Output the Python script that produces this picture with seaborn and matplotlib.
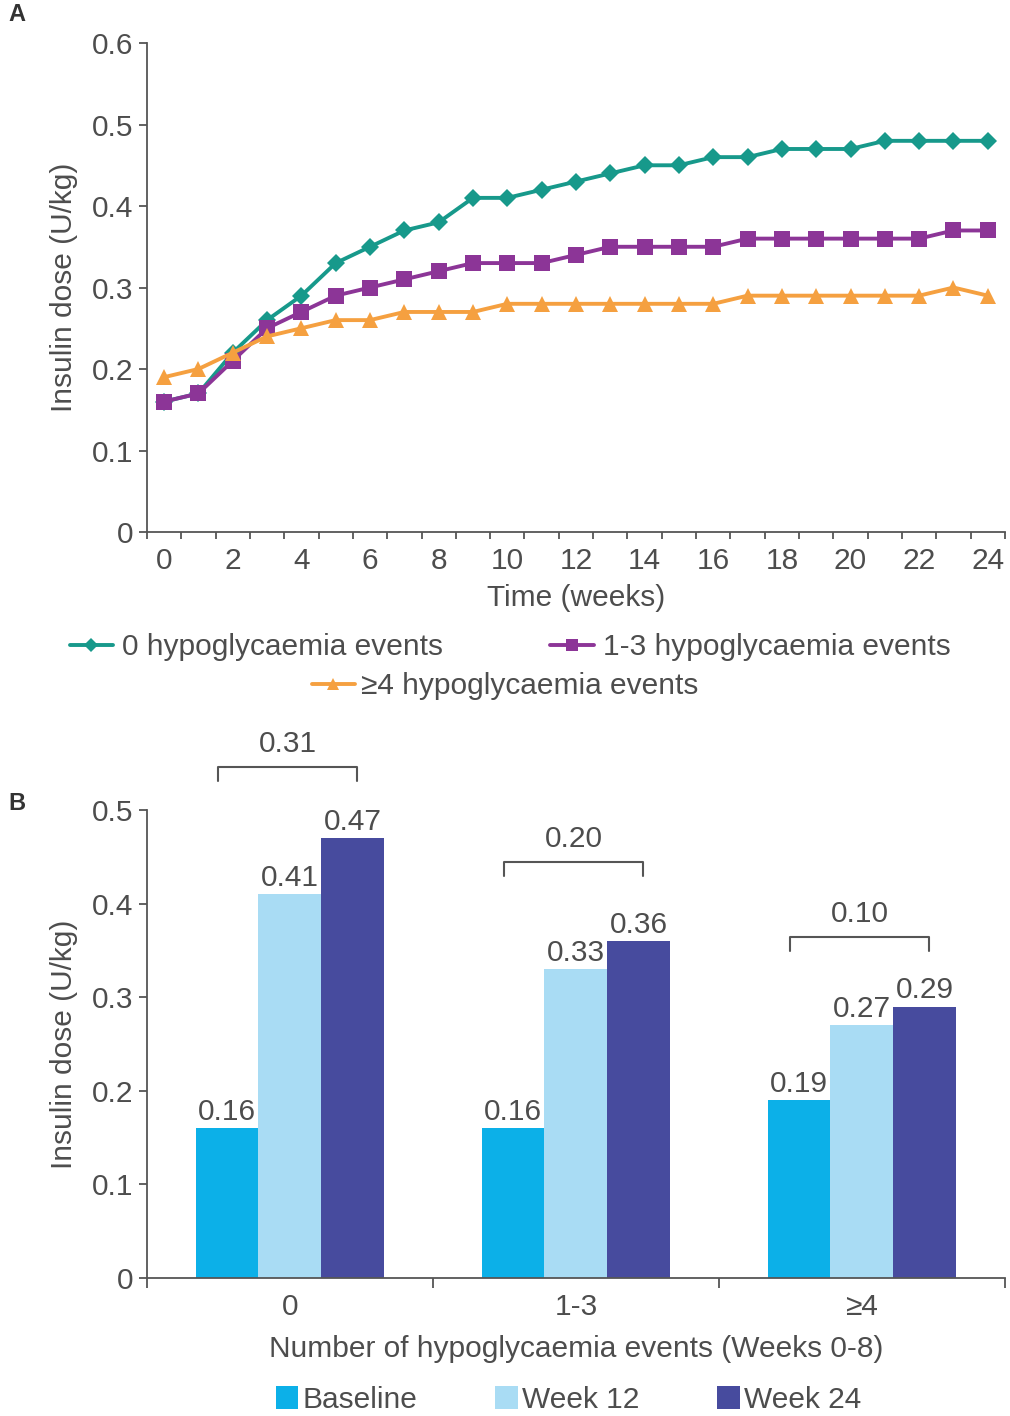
import numpy as np
import pandas as pd
import matplotlib
matplotlib.use("Agg")
import matplotlib.pyplot as plt
import seaborn as sns
from matplotlib.lines import Line2D
from matplotlib.patches import Patch
from matplotlib.ticker import FuncFormatter, FixedLocator

# ---------------- data ----------------
weeks = list(range(0, 25))
dose_0_events = [0.16, 0.17, 0.22, 0.26, 0.29, 0.33, 0.35, 0.37, 0.38, 0.41, 0.41, 0.42, 0.43,
                 0.44, 0.45, 0.45, 0.46, 0.46, 0.47, 0.47, 0.47, 0.48, 0.48, 0.48, 0.48]
dose_1_3_events = [0.16, 0.17, 0.21, 0.25, 0.27, 0.29, 0.30, 0.31, 0.32, 0.33, 0.33, 0.33, 0.34,
                   0.35, 0.35, 0.35, 0.35, 0.36, 0.36, 0.36, 0.36, 0.36, 0.36, 0.37, 0.37]
dose_4plus_events = [0.19, 0.20, 0.22, 0.24, 0.25, 0.26, 0.26, 0.27, 0.27, 0.27, 0.28, 0.28, 0.28,
                     0.28, 0.28, 0.28, 0.28, 0.29, 0.29, 0.29, 0.29, 0.29, 0.29, 0.30, 0.29]
series_names = ["0 hypoglycaemia events", "1-3 hypoglycaemia events", "\u22654 hypoglycaemia events"]

bar_groups = ["0", "1-3", "\u22654"]
bar_periods = ["Baseline", "Week 12", "Week 24"]
baseline_vals = [0.16, 0.16, 0.19]
week12_vals = [0.41, 0.33, 0.27]
week24_vals = [0.47, 0.36, 0.29]
diff_labels = ["0.31", "0.20", "0.10"]
bracket_y = [0.546, 0.444, 0.364]

# ---------------- style ----------------
sns.set_theme(style="ticks")
plt.rcParams['font.family'] = ['Liberation Sans', 'DejaVu Sans']
TXT = "#4d4d4d"
AX = "#555555"
plt.rcParams.update({
    "text.color": TXT, "axes.labelcolor": TXT, "xtick.color": AX, "ytick.color": AX,
    "axes.edgecolor": AX, "axes.linewidth": 1.3,
    "xtick.labelcolor": TXT, "ytick.labelcolor": TXT,
})
FS = 21.5

line_colors = ["#17998b", "#8c3597", "#f5a040"]
bar_colors = ["#0cb0e8", "#a9dcf4", "#474b9e"]

fig = plt.figure(figsize=(10.10, 14.16), dpi=100)

# ---------------- panel A ----------------
axA = fig.add_axes([0.1455, 0.6243, 0.8495, 0.3453])
df_line = pd.DataFrame({
    "week": weeks * 3,
    "dose": dose_0_events + dose_1_3_events + dose_4plus_events,
    "group": [series_names[0]] * 25 + [series_names[1]] * 25 + [series_names[2]] * 25,
})
markers = {series_names[0]: "D", series_names[1]: "s", series_names[2]: "^"}
msize = {series_names[0]: 9, series_names[1]: 11.5, series_names[2]: 11}
palA = dict(zip(series_names, line_colors))
for name in series_names:
    sub = df_line[df_line.group == name]
    sns.lineplot(data=sub, x="week", y="dose", color=palA[name], marker=markers[name],
                 markersize=msize[name], markeredgewidth=0, linewidth=2.8, ax=axA,
                 legend=False)
axA.set_xlim(-0.5, 24.5)
axA.set_ylim(0, 0.6)
axA.set_yticks(np.arange(0, 0.61, 0.1))
axA.yaxis.set_major_formatter(FuncFormatter(lambda v, p: "0" if abs(v) < 1e-9 else f"{v:.1f}"))
axA.set_xticks(range(0, 25, 2))
axA.set_xticklabels([str(w) for w in range(0, 25, 2)])
axA.xaxis.set_minor_locator(FixedLocator(np.arange(-0.5, 24.6, 1)))
axA.tick_params(axis="x", which="major", length=0, labelsize=FS, pad=11)
axA.tick_params(axis="x", which="minor", length=5, width=1.3, direction="out")
axA.tick_params(axis="y", which="major", length=6, width=1.3, labelsize=FS, pad=4)
axA.set_xlabel("Time (weeks)", fontsize=FS, labelpad=6)
axA.set_ylabel("Insulin dose (U/kg)", fontsize=FS, labelpad=10)
sns.despine(ax=axA)

hA = [Line2D([0], [0], color=palA[n], marker=markers[n], markersize=msize[n] * 0.75,
             markeredgewidth=0, linewidth=2.8) for n in series_names]
leg1 = fig.legend(hA[:2], series_names[:2], loc="center", bbox_to_anchor=(0.505, 0.5428),
                  ncol=2, frameon=False, fontsize=FS, handlelength=1.45, handletextpad=0.3,
                  columnspacing=3.6)
leg2 = fig.legend(hA[2:], series_names[2:], loc="center", bbox_to_anchor=(0.5, 0.5155),
                  ncol=1, frameon=False, fontsize=FS, handlelength=1.45, handletextpad=0.2)

# ---------------- panel B ----------------
axB = fig.add_axes([0.1455, 0.0975, 0.8495, 0.3305])
df_bar = pd.DataFrame({
    "group": bar_groups * 3,
    "period": [bar_periods[0]] * 3 + [bar_periods[1]] * 3 + [bar_periods[2]] * 3,
    "dose": baseline_vals + week12_vals + week24_vals,
})
sns.barplot(data=df_bar, x="group", y="dose", hue="period", order=bar_groups,
            hue_order=bar_periods, palette=bar_colors, width=0.66, saturation=1,
            linewidth=0, ax=axB, legend=False)
for cont in axB.containers:
    axB.bar_label(cont, labels=[f"{v:.2f}" for v in cont.datavalues], fontsize=FS,
                  color=TXT, padding=1.5)
axB.set_xlim(-0.5, 2.5)
axB.set_ylim(0, 0.5)
axB.set_yticks(np.arange(0, 0.51, 0.1))
axB.yaxis.set_major_formatter(FuncFormatter(lambda v, p: "0" if abs(v) < 1e-9 else f"{v:.1f}"))
axB.xaxis.set_minor_locator(FixedLocator([-0.5, 0.5, 1.5, 2.5]))
axB.tick_params(axis="x", which="major", length=0, labelsize=FS, pad=11)
axB.tick_params(axis="x", which="minor", length=7, width=1.3, direction="out")
axB.tick_params(axis="y", which="major", length=6, width=1.3, labelsize=FS, pad=4)
axB.set_xlabel("Number of hypoglycaemia events (Weeks 0-8)", fontsize=FS, labelpad=10)
axB.set_ylabel("Insulin dose (U/kg)", fontsize=FS, labelpad=10)
sns.despine(ax=axB)

# brackets above groups
for i, lab in enumerate(diff_labels):
    yb = bracket_y[i]
    x0, x1 = i - 0.25, i + 0.235
    axB.plot([x0, x0, x1, x1], [yb - 0.015, yb, yb, yb - 0.015], color=AX, lw=1.5,
             clip_on=False)
    axB.text((x0 + x1) / 2, yb + 0.01, lab, ha="center", va="bottom", fontsize=FS,
             color=TXT, clip_on=False)

hB = [Patch(facecolor=c, edgecolor="none") for c in bar_colors]
fig.legend(hB, bar_periods, loc="center", bbox_to_anchor=(0.563, 0.0115), ncol=3,
           frameon=False, fontsize=FS, handlelength=0.75, handleheight=0.85,
           handletextpad=0.15, columnspacing=2.6)

fig.text(0.008, 0.985, "A", fontsize=17, fontweight="bold", color="#333333")
fig.text(0.008, 0.428, "B", fontsize=17, fontweight="bold", color="#333333")

fig.savefig("out.png", dpi=100, facecolor="white")
